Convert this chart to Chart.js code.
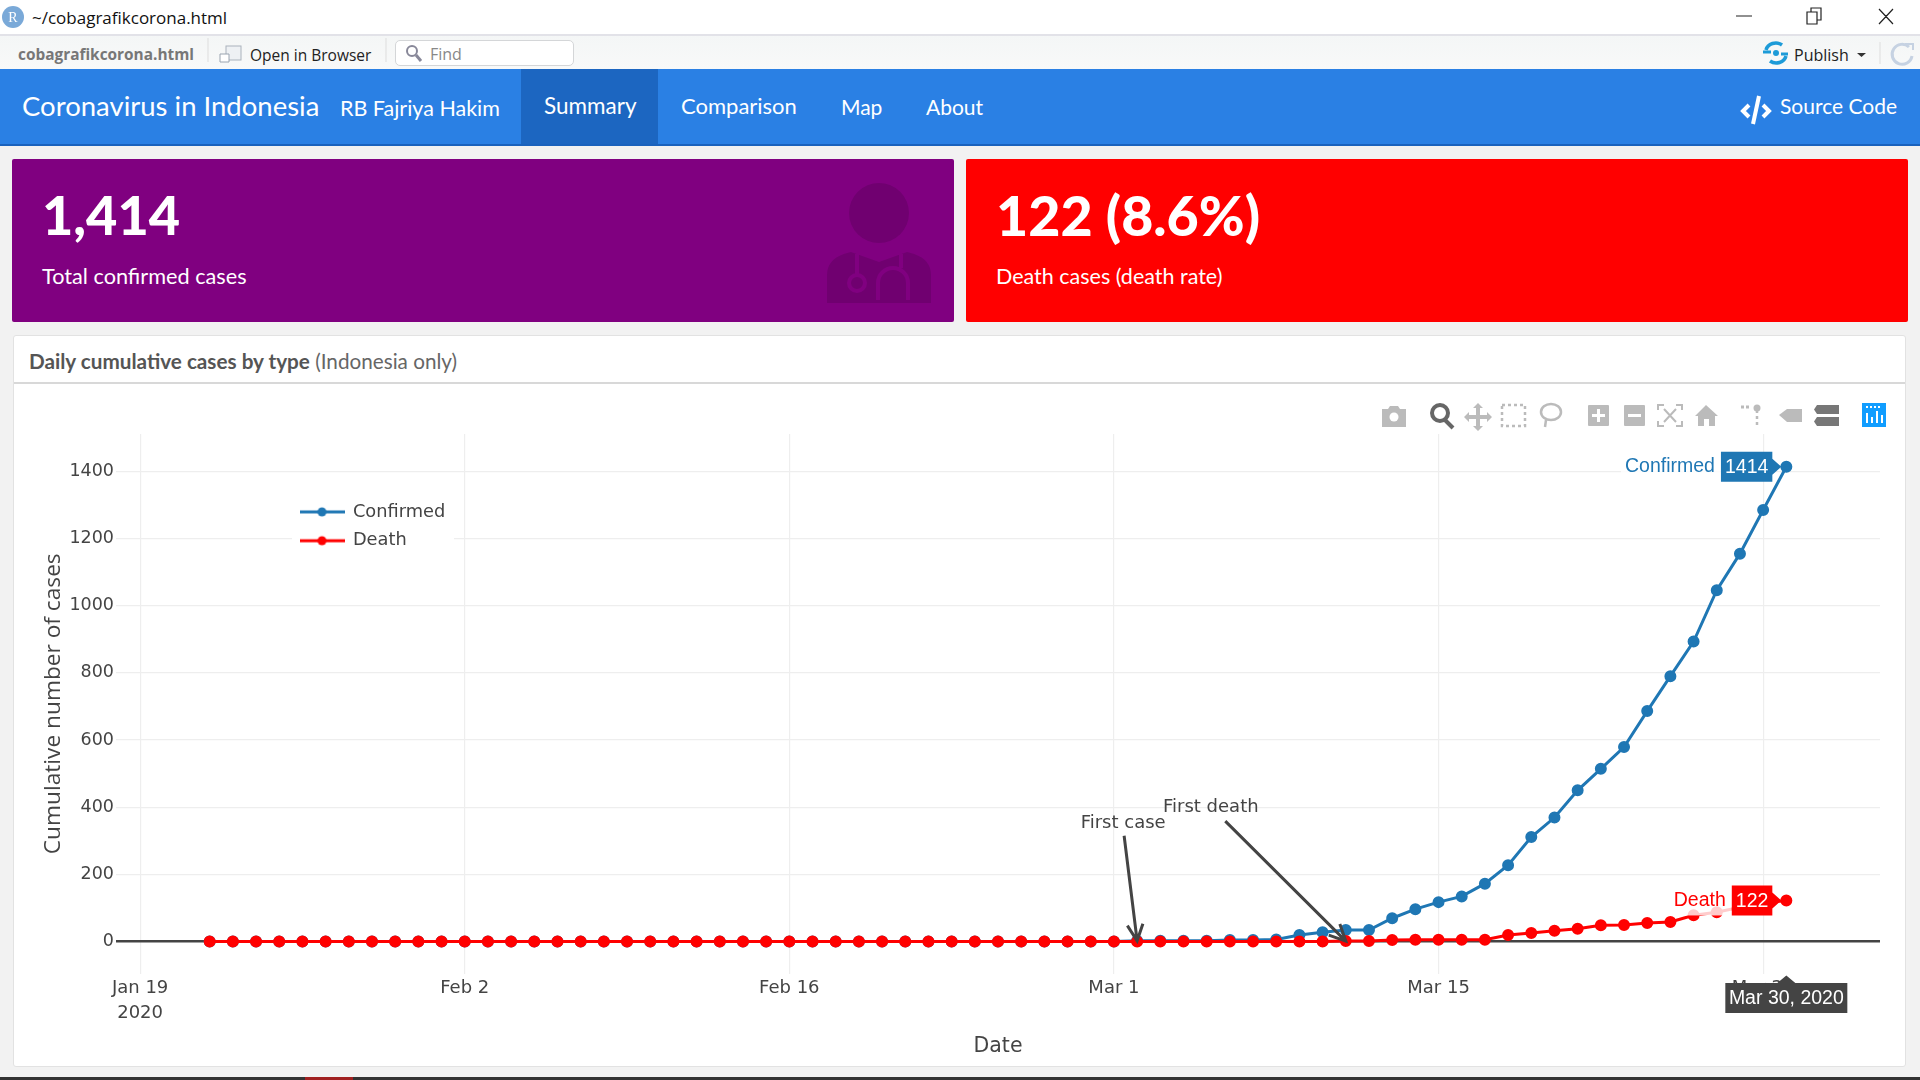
<!DOCTYPE html>
<html>

<head>
  <title>Coronavirus in Indonesia</title>
  <script src="https://cdn.jsdelivr.net/npm/chart.js"></script>
  <style>
    html, body { margin: 0; padding: 0; width: 1920px; height: 1080px; overflow: hidden; background: #f2f2f2; }
    .t { position: absolute; white-space: nowrap; line-height: 1; transform: translateY(-50%); }
    .box { position: absolute; }
    .nav { font-family: Lato, sans-serif; color: #fff; font-size: 22px; }
    .card-t { font-family: Lato, sans-serif; color: #fff; }
    #chart-canvas { position: absolute; left: 15px; top: 384px; }
  </style>
</head>

<body>
  <!-- window title bar -->
  <div class="box" style="left:0;top:0;width:1920px;height:34px;background:#fff"></div>
  <div class="box" style="left:0;top:34px;width:1920px;height:2px;background:#e2e2e8"></div>
  <span class="t" style="left:32px;top:17px;font:17px 'Open Sans';color:#111">~/cobagrafikcorona.html</span>

  <!-- viewer toolbar -->
  <div class="box" style="left:0;top:36px;width:1920px;height:33px;background:linear-gradient(#f4f6f6,#f8f9f9)"></div>
  <span class="t" style="left:18px;top:54px;font:bold 15.4px 'Open Sans';color:#777">cobagrafikcorona.html</span>
  <span class="t" style="left:250px;top:55px;font:15.500px 'Open Sans';color:#222">Open in Browser</span>
  <div class="box" style="left:395px;top:40px;width:177px;height:24px;background:#fff;border:1px solid #d4d6d8;border-radius:5px"></div>
  <span class="t" style="left:430px;top:54px;font:16px 'Open Sans';color:#888">Find</span>
  <span class="t" style="left:1794px;top:55px;font:16px 'Open Sans';color:#222">Publish</span>

  <!-- navbar -->
  <div class="box" style="left:0;top:69px;width:1920px;height:75px;background:#2a80e4"></div>
  <div class="box" style="left:0;top:144px;width:1920px;height:2px;background:#1a62bd"></div>
  <div class="box" style="left:521px;top:69px;width:137px;height:75px;background:#1c66c1"></div>
  <span class="t nav" style="left:22px;top:106px;font-size:27.500px">Coronavirus in Indonesia</span>
  <span class="t nav" style="left:340px;top:109px;font-size:21.500px">RB Fajriya Hakim</span>
  <span class="t nav" style="left:544px;top:106px;font-size:22.500px">Summary</span>
  <span class="t nav" style="left:681px;top:106px;font-size:22px">Comparison</span>
  <span class="t nav" style="left:841px;top:106px;font-size:21px">Map</span>
  <span class="t nav" style="left:926px;top:106px;font-size:21px">About</span>
  <span class="t nav" style="left:1780px;top:105px;font-size:21px">Source Code</span>

  <!-- value boxes -->
  <div class="box" style="left:12px;top:159px;width:942px;height:163px;background:#800080;border-radius:2px"></div>
  <div class="box" style="left:966px;top:159px;width:942px;height:163px;background:#ff0000;border-radius:2px"></div>
  <span class="t card-t" style="left:42px;top:215px;font-size:54px;font-weight:900">1,414</span>
  <span class="t card-t" style="left:996px;top:215px;font-size:55.500px;font-weight:900">122 (8.6%)</span>
  <span class="t card-t" style="left:42px;top:277px;font-size:21.700px">Total confirmed cases</span>
  <span class="t card-t" style="left:996px;top:277px;font-size:21.500px">Death cases (death rate)</span>

  <!-- chart card -->
  <div class="box" style="left:13px;top:335px;width:1893px;height:732px;background:#fff;border:1px solid #e2e2e2;box-sizing:border-box;border-radius:3px"></div>
  <div class="box" style="left:14px;top:382px;width:1891px;height:2px;background:#d8d8d8"></div>
  <span class="t" style="left:29px;top:361px;font:20.700px Lato;color:#666"><b style="color:#555">Daily cumulative cases by type</b> (Indonesia only)</span>

  <canvas id="chart-canvas" width="1890" height="682"></canvas>

  <!-- icons -->
  <svg class="box" style="left:0;top:0" width="1920" height="1080" viewBox="0 0 1920 1080">
    <circle cx="13" cy="17" r="11" fill="#7aa9d8"/>
    <text x="13" y="22" text-anchor="middle" font-family="Liberation Serif" font-size="14" fill="#fff">R</text>
    <path d="M1736 16h16M1807 12h10v12h-10zM1811 12v-4h10v12h-4M1879 9l14 15M1893 9l-14 15" fill="none" stroke="#222" stroke-width="1.200"/>
    <!-- publish and refresh -->
    <path d="M1766 50a10 9 0 0 1 16-5M1786 56a10 9 0 0 1-16 5" fill="none" stroke="#1d9bd8" stroke-width="3.500"/>
    <path d="M1763 52h8M1781 54h7" stroke="#1d9bd8" stroke-width="3"/>
    <circle cx="1776" cy="53" r="3" fill="#1d9bd8"/>
    <path d="M1857 53h9l-4.500 4z" fill="#333"/>
    <path d="M1880 42v22" stroke="#ddd"/>
    <path d="M1909 47a10 10 0 1 0 3 9" fill="none" stroke="#c6d2e2" stroke-width="3"/>
    <path d="M1905 44h8v6" fill="none" stroke="#c6d2e2" stroke-width="2"/>
    <!-- toolbar separators and small icons -->
    <path d="M208 38v24M386 38v24" stroke="#ddd"/>
    <rect x="226" y="46" width="15" height="14" fill="#eef1f4" stroke="#aab2bc"/>
    <path d="M220 62h9v-8h-9z" fill="#fff" stroke="#9aa4b0"/>
    <circle cx="412" cy="51" r="5" fill="none" stroke="#889" stroke-width="2"/>
    <path d="M416 55l5 6" stroke="#889" stroke-width="3"/>
    <!-- source code glyph -->
    <path d="M1749 105l-6 6 6 6M1763 105l6 6-6 6" fill="none" stroke="#fff" stroke-width="4"/>
    <path d="M1759 96l-6 28" stroke="#fff" stroke-width="4"/>
    <!-- doctor -->
    <ellipse cx="879" cy="213" rx="30" ry="30" fill="#700070"/>
    <path d="M827 303v-28q0-18 24-23l28 10 28-10q24 5 24 23v28z" fill="#700070"/>
    <circle cx="857" cy="283" r="8" fill="none" stroke="#800080" stroke-width="4"/>
    <path d="M878 300v-17a15 15 0 0 1 30 0v17" fill="none" stroke="#800080" stroke-width="4"/>
    <path d="M857 254v20M901 254v14" stroke="#800080" stroke-width="4"/>
    <!-- plotly mode bar -->
    <g fill="#bbb">
      <path d="M1382 409h6l2-3h8l2 3h6v18h-24z"/>
      <path d="M1478 403l5 5h-3v7h7v-3l5 5-5 5v-3h-7v7h3l-5 5-5-5h3v-7h-7v3l-5-5 5-5v3h7v-7h-3z"/>
      <rect x="1588" y="405" width="21" height="21" rx="1"/>
      <rect x="1624" y="405" width="21" height="21" rx="1"/>
      <path d="M1706 405l12 11h-3v10h-6v-7h-5v7h-6v-10h-3z"/>
      <path d="M1779 415l8-6h15v13h-15z"/>
    </g>
    <circle cx="1394" cy="417" r="4.500" fill="#fff"/>
    <path d="M1592 415.500h13M1598.500 409v13M1628 415.500h13" stroke="#fff" stroke-width="3"/>
    <circle cx="1440" cy="413" r="8" fill="none" stroke="#666" stroke-width="4"/>
    <path d="M1445 420l8 8" stroke="#666" stroke-width="4"/>
    <rect x="1502" y="405" width="23" height="21" fill="none" stroke="#bbb" stroke-width="2.500" stroke-dasharray="3 3"/>
    <ellipse cx="1551" cy="412" rx="10" ry="8" fill="none" stroke="#bbb" stroke-width="2.500"/>
    <path d="M1546 420l-1 7" stroke="#bbb" stroke-width="2.500"/>
    <path d="M1658 410v-5h6M1676 405h6v5M1658 421v5h6M1676 426h6v-5M1664 409l12 13M1676 409l-12 13" fill="none" stroke="#bbb" stroke-width="2"/>
    <path d="M1757 410v18" stroke="#bbb" stroke-width="2.500" stroke-dasharray="3 3"/>
    <circle cx="1757" cy="408" r="3.500" fill="#bbb"/>
    <path d="M1741 407h8" stroke="#bbb" stroke-width="3" stroke-dasharray="3 2"/>
    <path d="M1817 405h22v9h-22l-3-4.500zM1817 417h22v9h-22l-3-4.500z" fill="#777"/>
    <rect x="1862" y="403" width="24" height="24" fill="#119dff"/>
    <path d="M1867 413v10M1872 417v6M1877 411v12M1882 415v8" stroke="#fff" stroke-width="2"/>
    <path d="M1866 407h16" stroke="#fff" stroke-width="2" stroke-dasharray="2 2"/>
    <rect x="0" y="1077" width="1920" height="3" fill="#333"/>
    <rect x="305" y="1077" width="48" height="3" fill="#a02020"/>
  </svg>

  <script>
    var dates = [
      '2020-01-22', '2020-01-23', '2020-01-24', '2020-01-25', '2020-01-26', '2020-01-27', '2020-01-28', '2020-01-29', '2020-01-30', '2020-01-31',
      '2020-02-01', '2020-02-02', '2020-02-03', '2020-02-04', '2020-02-05', '2020-02-06', '2020-02-07', '2020-02-08', '2020-02-09', '2020-02-10',
      '2020-02-11', '2020-02-12', '2020-02-13', '2020-02-14', '2020-02-15', '2020-02-16', '2020-02-17', '2020-02-18', '2020-02-19', '2020-02-20',
      '2020-02-21', '2020-02-22', '2020-02-23', '2020-02-24', '2020-02-25', '2020-02-26', '2020-02-27', '2020-02-28', '2020-02-29', '2020-03-01',
      '2020-03-02', '2020-03-03', '2020-03-04', '2020-03-05', '2020-03-06', '2020-03-07', '2020-03-08', '2020-03-09', '2020-03-10', '2020-03-11',
      '2020-03-12', '2020-03-13', '2020-03-14', '2020-03-15', '2020-03-16', '2020-03-17', '2020-03-18', '2020-03-19', '2020-03-20', '2020-03-21',
      '2020-03-22', '2020-03-23', '2020-03-24', '2020-03-25', '2020-03-26', '2020-03-27', '2020-03-28', '2020-03-29', '2020-03-30'
    ];
    var confirmed = [
      0, 0, 0, 0, 0, 0, 0, 0, 0, 0,
      0, 0, 0, 0, 0, 0, 0, 0, 0, 0,
      0, 0, 0, 0, 0, 0, 0, 0, 0, 0,
      0, 0, 0, 0, 0, 0, 0, 0, 0, 0,
      2, 2, 2, 2, 4, 4, 6, 19, 27, 34,
      34, 69, 96, 117, 134, 172, 227, 311, 369, 450,
      514, 579, 686, 790, 893, 1046, 1155, 1285, 1414
    ];
    var death = [
      0, 0, 0, 0, 0, 0, 0, 0, 0, 0,
      0, 0, 0, 0, 0, 0, 0, 0, 0, 0,
      0, 0, 0, 0, 0, 0, 0, 0, 0, 0,
      0, 0, 0, 0, 0, 0, 0, 0, 0, 0,
      0, 0, 0, 0, 0, 0, 0, 0, 0, 1,
      1, 4, 5, 5, 5, 5, 19, 25, 32, 38,
      48, 49, 55, 58, 78, 87, 102, 114, 122
    ];
    var xTickDates = ['2020-01-19', '2020-02-02', '2020-02-16', '2020-03-01', '2020-03-15', '2020-03-29'];
    var xTickLabels = [['Jan 19', '2020'], 'Feb 2', 'Feb 16', 'Mar 1', 'Mar 15', 'Mar 29'];
    var yTicks = [0, 200, 400, 600, 800, 1000, 1200, 1400];
    var annotationLabels = ['First case', 'First death'];
    var annotationDates = ['2020-03-02', '2020-03-11'];
    var annotationValues = [2, 1];

    var BLUE = '#1f77b4';
    var RED = '#ff0000';
    var TICK_FONT = 'DejaVu Sans';

    // days since the first tick, the x axis is a plain linear scale
    function dayOf(d) {
      return (Date.parse(d) - Date.parse(xTickDates[0])) / 86400000;
    }
    function toPoints(values) {
      return values.map(function (v, i) { return { x: dayOf(dates[i]), y: v }; });
    }

    // line + dot symbol for the legend
    function legendSymbol(color) {
      var c = document.createElement('canvas');
      c.width = 45;
      c.height = 12;
      var g = c.getContext('2d');
      g.strokeStyle = color;
      g.fillStyle = color;
      g.lineWidth = 3;
      g.beginPath();
      g.moveTo(0, 6);
      g.lineTo(45, 6);
      g.stroke();
      g.beginPath();
      g.arc(22.5, 6, 4.5, 0, Math.PI * 2);
      g.fill();
      return c;
    }

    function drawArrow(ctx, x0, y0, x1, y1) {
      var a = Math.atan2(y1 - y0, x1 - x0);
      var barb = 18;
      ctx.save();
      ctx.strokeStyle = '#444';
      ctx.lineWidth = 3;
      ctx.beginPath();
      ctx.moveTo(x0, y0);
      ctx.lineTo(x1, y1);
      ctx.moveTo(x1 - barb * Math.cos(a - 0.45), y1 - barb * Math.sin(a - 0.45));
      ctx.lineTo(x1, y1);
      ctx.lineTo(x1 - barb * Math.cos(a + 0.45), y1 - barb * Math.sin(a + 0.45));
      ctx.stroke();
      ctx.restore();
    }

    // hover label: name on white, value box, small pointer towards the point
    function drawHoverLabel(ctx, px, py, name, value, color) {
      ctx.save();
      ctx.font = '19.5px "Liberation Sans"';
      ctx.textBaseline = 'middle';
      var valueW = ctx.measureText(value).width + 8;
      var nameW = ctx.measureText(name).width + 10;
      var right = px - 14;
      var h = 30;
      ctx.fillStyle = 'rgba(255,255,255,0.8)';
      ctx.fillRect(right - valueW - nameW, py - h / 2, nameW, h);
      ctx.fillStyle = color;
      ctx.beginPath();
      ctx.moveTo(right - valueW, py - h / 2);
      ctx.lineTo(right, py - h / 2);
      ctx.lineTo(right, py - 8);
      ctx.lineTo(right + 9, py);
      ctx.lineTo(right, py + 8);
      ctx.lineTo(right, py + h / 2);
      ctx.lineTo(right - valueW, py + h / 2);
      ctx.closePath();
      ctx.fill();
      ctx.textAlign = 'right';
      ctx.fillText(name, right - valueW - 6, py);
      ctx.fillStyle = '#fff';
      ctx.textAlign = 'center';
      ctx.fillText(value, right - valueW / 2, py + 1);
      ctx.restore();
    }

    var overlayPlugin = {
      id: 'overlay',
      afterLayout: function (chart) {
        // plotly keeps its legend inside the plot, move the chart.js one there
        var lg = chart.legend;
        lg.left = 274;
        lg.right = 439;
        lg.top = 108;
        lg.bottom = 179;
      },
      beforeDatasetsDraw: function (chart) {
        var lg = chart.legend;
        var ctx = chart.ctx;
        ctx.save();
        ctx.fillStyle = '#fff';
        ctx.fillRect(277, 106, 162, 70);
        ctx.restore();
        lg.draw();
      },
      afterDatasetsDraw: function (chart) {
        var ctx = chart.ctx;
        var xs = chart.scales.x;
        var ys = chart.scales.y;
        var tipOffsets = [[-13, -105], [-120.5, -120]];
        var textOffsets = [[-14, -117], [-135, -134]];
        annotationLabels.forEach(function (label, i) {
          var tx = xs.getPixelForValue(dayOf(annotationDates[i]));
          var ty = ys.getPixelForValue(annotationValues[i]);
          drawArrow(ctx, tx + tipOffsets[i][0], ty + tipOffsets[i][1], tx, ty);
          ctx.save();
          ctx.font = '18px "' + TICK_FONT + '"';
          ctx.fillStyle = '#444';
          ctx.textAlign = 'center';
          ctx.textBaseline = 'middle';
          ctx.fillText(label, tx + textOffsets[i][0], ty + textOffsets[i][1]);
          ctx.restore();
        });
      },
      afterDraw: function (chart) {
        var ctx = chart.ctx;
        var xs = chart.scales.x;
        var ys = chart.scales.y;
        var last = dates.length - 1;
        var px = xs.getPixelForValue(dayOf(dates[last]));
        drawHoverLabel(ctx, px, ys.getPixelForValue(confirmed[last]), 'Confirmed', String(confirmed[last]), BLUE);
        drawHoverLabel(ctx, px, ys.getPixelForValue(death[last]), 'Death', String(death[last]), RED);
        // redraw the last death point, the label must not cover it
        ctx.save();
        ctx.fillStyle = RED;
        ctx.beginPath();
        ctx.arc(px, ys.getPixelForValue(death[last]), 4.5, 0, Math.PI * 2);
        ctx.fill();

        // date label under the axis
        var top = chart.chartArea.bottom + 9.5;
        var w = 122;
        ctx.fillStyle = '#444';
        ctx.beginPath();
        ctx.moveTo(px, chart.chartArea.bottom + 2);
        ctx.lineTo(px + 9, top);
        ctx.lineTo(px + w / 2, top);
        ctx.lineTo(px + w / 2, top + 30);
        ctx.lineTo(px - w / 2, top + 30);
        ctx.lineTo(px - w / 2, top);
        ctx.lineTo(px - 9, top);
        ctx.closePath();
        ctx.fill();
        ctx.fillStyle = '#fff';
        ctx.font = '19.5px "Liberation Sans"';
        ctx.textAlign = 'center';
        ctx.textBaseline = 'middle';
        ctx.fillText('Mar 30, 2020', px, top + 16);
        ctx.restore();
      }
    };

    var ctx = document.getElementById('chart-canvas').getContext('2d');
    var chart = new Chart(ctx, {
      type: 'line',
      data: {
        datasets: [{
          label: 'Confirmed',
          data: toPoints(confirmed),
          borderColor: BLUE,
          backgroundColor: BLUE,
          borderWidth: 3,
          pointRadius: 4.5,
          order: 1,
        }, {
          label: 'Death',
          data: toPoints(death),
          borderColor: RED,
          backgroundColor: RED,
          borderWidth: 3,
          pointRadius: 4.5,
          order: 0,
        }]
      },
      options: {
        responsive: false,
        animation: false,
        devicePixelRatio: 1,
        events: [],
        layout: { padding: { left: 0, right: 25, top: 50, bottom: 0 } },
        plugins: {
          tooltip: { enabled: false },
          legend: {
            position: 'chartArea',
            align: 'start',
            labels: {
              color: '#444',
              font: { family: TICK_FONT, size: 17.8 },
              usePointStyle: true,
              pointStyleWidth: 44,
              padding: 11,
              generateLabels: function (c) {
                return c.data.datasets.map(function (ds, i) {
                  return {
                    text: ds.label,
                    pointStyle: legendSymbol(ds.borderColor),
                    datasetIndex: i,
                    fontColor: '#444',
                    lineWidth: 0,
                  };
                });
              }
            }
          }
        },
        scales: {
          x: {
            type: 'linear',
            min: -1.04,
            max: 75.04,
            afterFit: function (s) { s.height = 92.5; },
            afterBuildTicks: function (s) {
              s.ticks = xTickDates.map(function (d) { return { value: dayOf(d) }; });
            },
            grid: { color: '#eeeeee', lineWidth: 1.2, drawTicks: false },
            border: { display: false },
            ticks: {
              autoSkip: false,
              maxRotation: 0,
              padding: 2.4,
              color: '#444',
              font: { family: TICK_FONT, size: 18, lineHeight: 1.37 },
              callback: function (v) {
                return xTickLabels[xTickDates.findIndex(function (d) { return dayOf(d) === v; })];
              }
            },
            title: {
              display: true,
              text: 'Date',
              color: '#444',
              font: { family: TICK_FONT, size: 20.5 },
              padding: { top: 0, bottom: 6.6 }
            }
          },
          y: {
            type: 'linear',
            min: -95.6,
            max: 1511.4,
            afterFit: function (s) { s.width = 101; },
            afterBuildTicks: function (s) {
              s.ticks = yTicks.map(function (v) { return { value: v }; });
            },
            grid: {
              drawTicks: false,
              color: function (c) { return c.tick && c.tick.value === 0 ? '#444' : '#eeeeee'; },
              lineWidth: function (c) { return c.tick && c.tick.value === 0 ? 2.4 : 1.2; }
            },
            border: { display: false },
            ticks: {
              padding: 2,
              color: '#444',
              font: { family: TICK_FONT, size: 17.5 },
              callback: function (v) { return String(v); }
            },
            title: {
              display: true,
              text: 'Cumulative number of cases',
              color: '#444',
              font: { family: 'Open Sans', size: 22.7 },
              padding: { top: 25, bottom: 0 }
            }
          }
        }
      },
      plugins: [overlayPlugin]
    });
  </script>
</body>

</html>
